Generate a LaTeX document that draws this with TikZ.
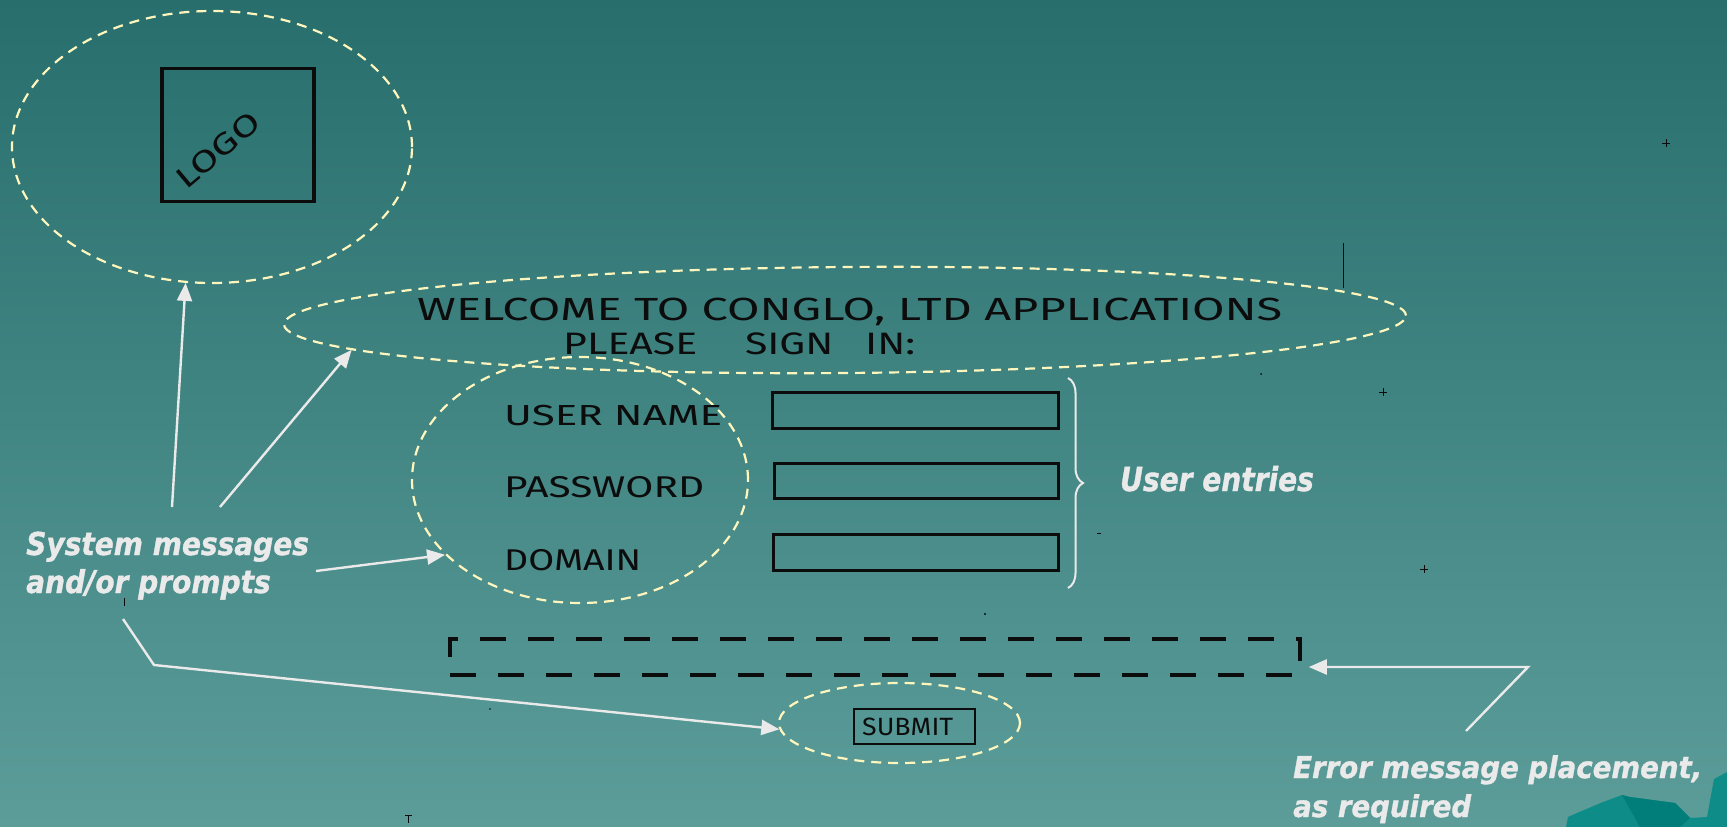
\documentclass[tikz,border=0pt]{standalone}
\usepackage{fontspec}
\usepackage{graphicx}
\usetikzlibrary{arrows.meta,shapes.geometric,decorations.pathreplacing}

\newfontfamily\calloutfont{DejaVu Sans}[BoldItalicFeatures={FakeBold=1.2}]
\newfontfamily\sketchfont{Fira Sans}

\definecolor{bgtop}{RGB}{39,110,108}
\definecolor{bgbot}{RGB}{92,157,154}
\definecolor{cream}{RGB}{255,246,190}
\definecolor{ink}{RGB}{12,12,12}
\definecolor{notegrey}{RGB}{234,234,234}
\definecolor{land}{RGB}{14,140,136}
\definecolor{landdark}{RGB}{2,126,122}

% pencil lettering stretched to a given width: {width}{size}{text}
\newcommand\sketchtext[3]{\resizebox{#1pt}{\height}{\fontsize{#2}{#2}\selectfont #3}}
% callout lettering, squeezed horizontally: {xscale}{size}{leading}{lines}
\newcommand\callout[4]{\scalebox{#1}[1]{\fontsize{#2}{#3}\selectfont\begin{tabular}[t]{@{}l@{}}#4\end{tabular}}}

\tikzset{
  ring/.style={draw=cream, line width=2.2pt, dash pattern=on 10pt off 7pt, ellipse, inner sep=0pt},
  inkbox/.style={draw=ink, line width=3pt, rectangle, inner sep=0pt},
  hand/.style={text=ink, inner sep=0pt, font=\sketchfont},
  note/.style={text=notegrey, inner sep=0pt, font=\calloutfont\bfseries\itshape},
  pointer/.style={draw=notegrey, line width=2.4pt, -{Triangle[length=18pt,width=15pt]}},
  speck/.style={draw=ink, line width=1pt},
}

\begin{document}
\begin{tikzpicture}[x=1pt,y=-1pt]
% background
\shade[top color=bgtop, bottom color=bgbot] (0,0) rectangle (1727,827);
\useasboundingbox (0,0) rectangle (1727,827);

% hills in the lower right corner
\fill[land] (1566,827) -- (1568,817) -- (1577,813) -- (1603,802) -- (1622,795) -- (1630,797)
  -- (1675,803) -- (1690,818) -- (1707,817) -- (1714,779) -- (1727,772) -- (1727,827) -- cycle;
\fill[landdark] (1622,795) -- (1630,797) -- (1675,803) -- (1690,818) -- (1680,827) -- (1640,827) -- cycle;

% logo area
\node[ring, minimum width=400pt, minimum height=272pt] (logoring) at (212,147) {};
\node[inkbox, line width=3.5pt, minimum width=152pt, minimum height=133pt] (logobox) at (238,135) {};
\node[hand, rotate=40] (logotext) at (218,150) {\sketchtext{100}{30}{LOGO}};

% welcome banner
\node[ring, minimum width=1122pt, minimum height=106pt, rotate=0.46] (welcome) at (845,320) {};
\node[hand, anchor=base west] (welcomeline) at (417,320) {\sketchtext{865}{32}{WELCOME TO CONGLO, LTD APPLICATIONS}};
\node[hand, anchor=base west] (signin) at (563,354) {\sketchtext{352}{31}{PLEASE\hspace{36pt}SIGN\hspace{24pt}IN:}};

% field prompts
\node[ring, minimum width=336pt, minimum height=246pt] (fieldsring) at (580,480) {};
\node[hand, anchor=base west] (username) at (504,425) {\sketchtext{218}{29}{USER NAME}};
\node[hand, anchor=base west] (password) at (504,497) {\sketchtext{200}{30}{PASSWORD}};
\node[hand, anchor=base west] (domain) at (504,570) {\sketchtext{137}{30}{DOMAIN}};

% entry fields
\node[inkbox, minimum width=286pt, minimum height=36pt] (userbox) at (915,410) {};
\node[inkbox, minimum width=284pt, minimum height=35pt] (passbox) at (916,480.5) {};
\node[inkbox, minimum width=285pt, minimum height=36pt] (domainbox) at (915.5,552) {};
\draw[draw=notegrey, line width=2pt, decorate, decoration={brace, amplitude=15pt}] (1068,378) -- (1068,588);
\node[note, anchor=base west] (entrynote) at (1120,491) {\callout{0.85}{33}{40}{User entries}};

% error message slot
\node[draw=ink, line width=3.5pt, dash pattern=on 26pt off 22pt, rectangle, inner sep=0pt,
      minimum width=850pt, minimum height=36pt] (errbox) at (875,657) {};

% submit button
\node[ring, minimum width=241pt, minimum height=80pt] (submitring) at (899.5,723) {};
\node[inkbox, line width=2.6pt, minimum width=121pt, minimum height=35pt] (submitbox) at (914.5,726.5) {};
\node[hand, anchor=base west] (submittext) at (862,735) {\sketchtext{91}{25}{SUBMIT}};

% callouts
\node[note, anchor=base west] (sysnote) at (26,555) {\callout{0.89}{31.5}{38}{System messages\\and/or prompts}};
\node[note, anchor=base west] (errnote) at (1293,778) {\callout{0.92}{30}{39}{Error message placement,\\as required}};

% pointers
\coordinate (s1) at (172,507);
\coordinate (s2) at (220,507);
\coordinate (s3) at (316,571);
\coordinate (s4) at (123,619);
\coordinate (s4bend) at (154,665);
\coordinate (e1) at (1466,731);
\coordinate (ebend) at (1528,667);
\draw[pointer] (s1) -- (logoring.259.6);
\draw[pointer] (s2) -- (welcome.183.6);
\draw[pointer] (s3) -- (fieldsring.209);
\draw[pointer] (s4) -- (s4bend) -- (submitring.183);
\draw[pointer, shorten >=7pt] (e1) -- (ebend) -- (ebend -| errbox.east);

% scanner specks
\draw[speck] (1343,243) -- (1343,288);
\draw[speck] (1662,143) -- (1670,143) (1666,139) -- (1666,147);
\draw[speck] (1379,392) -- (1387,392) (1383,388) -- (1383,396);
\draw[speck] (1420,569) -- (1428,569) (1424,565) -- (1424,573);
\draw[speck] (405,815) -- (412,815) (408.5,815) -- (408.5,823);
\draw[speck] (124,598) -- (124,606);
\fill[ink] (985,614) circle (1.2pt) (1261,374) circle (1pt) (490,709) circle (0.8pt);
\draw[speck] (1097,533) -- (1101,533);
\end{tikzpicture}
\end{document}
